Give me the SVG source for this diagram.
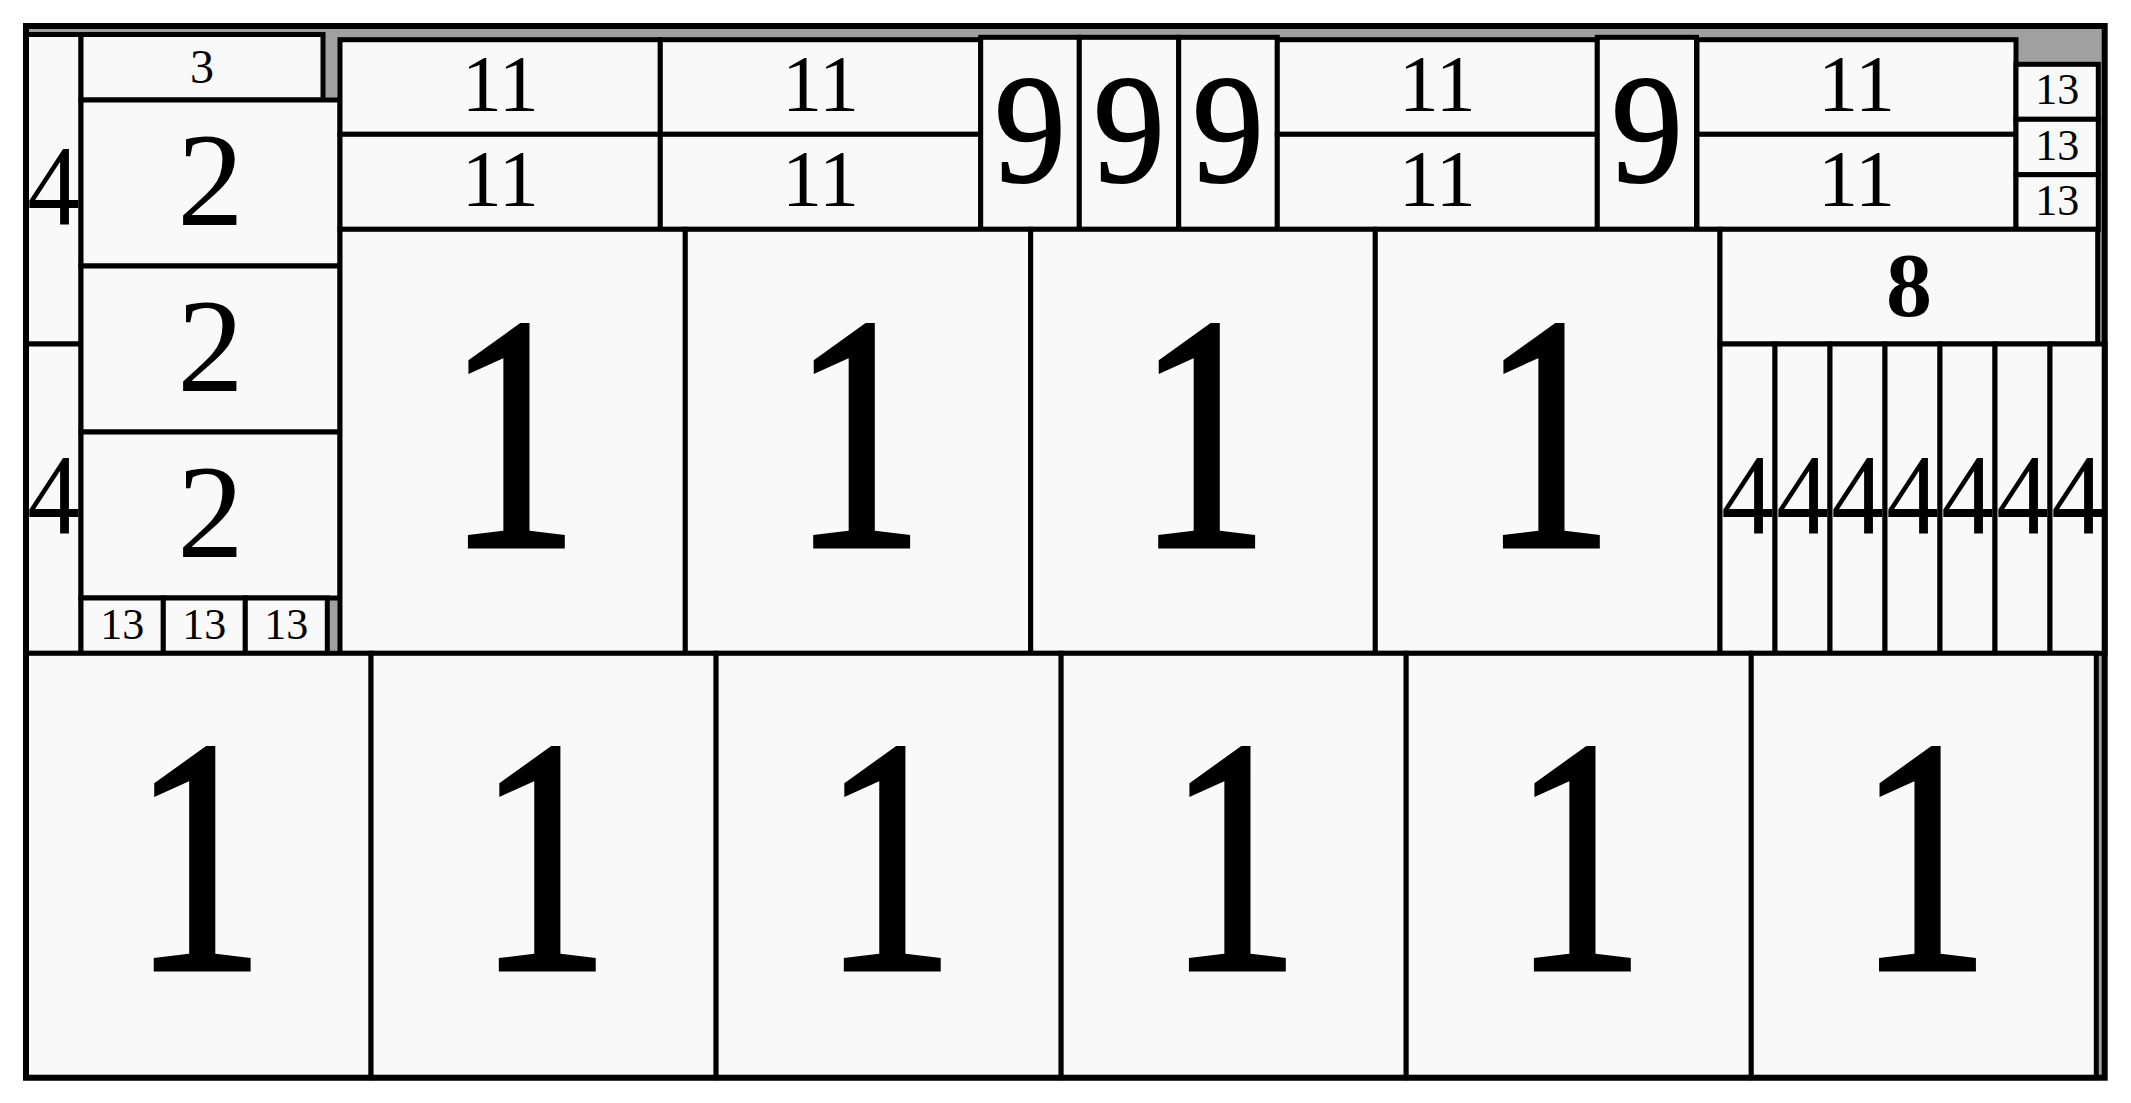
<svg xmlns="http://www.w3.org/2000/svg" width="2131" height="1103" viewBox="0 0 2131 1103">
<style>
.c{fill:#f9f9f9;stroke:#000;stroke-width:5}
text{fill:#000;text-anchor:middle}
.big{stroke:#000;stroke-width:5;stroke-linejoin:miter}
.mid{stroke:#000;stroke-width:2}
</style>
<rect width="2131" height="1103" fill="#fff"/>
<rect id="frame-bg" x="26" y="26" width="2078.7" height="1051.7" fill="#a0a0a0"/>
<g font-family="Liberation Serif, Times New Roman, serif">
<g id="n4a"><rect class="c" x="26" y="34.5" width="55" height="309.5"/><text x="53.5" y="225" font-size="114" textLength="52.7" lengthAdjust="spacingAndGlyphs">4</text></g>
<g id="n4b"><rect class="c" x="26" y="344" width="55" height="309.3"/><text x="53.5" y="533.5" font-size="114" textLength="52.7" lengthAdjust="spacingAndGlyphs">4</text></g>
<g id="n3"><rect class="c" x="81" y="34.5" width="242" height="65.5"/><text x="202" y="82.5" font-size="48">3</text></g>
<g id="n2a"><rect class="c" x="81" y="100" width="259" height="166"/><text x="210.5" y="225" font-size="133">2</text></g>
<g id="n2b"><rect class="c" x="81" y="266" width="259" height="166"/><text x="210.5" y="391" font-size="133">2</text></g>
<g id="n2c"><rect class="c" x="81" y="432" width="259" height="166"/><text x="210.5" y="557" font-size="133">2</text></g>
<g id="n13a"><rect class="c" x="81" y="598" width="82.3" height="55.3"/><text x="122.2" y="639.3" font-size="44">13</text></g>
<g id="n13b"><rect class="c" x="163.3" y="598" width="82" height="55.3"/><text x="204.3" y="639.3" font-size="44">13</text></g>
<g id="n13c"><rect class="c" x="245.3" y="598" width="82" height="55.3"/><text x="286.3" y="639.3" font-size="44">13</text></g>
<g id="n11a1"><rect class="c" x="340" y="39.7" width="320.3" height="94.6"/><text x="500.2" y="110.7" font-size="80">11</text></g>
<g id="n11a2"><rect class="c" x="340" y="134.3" width="320.3" height="95"/><text x="500.2" y="206" font-size="80">11</text></g>
<g id="n11b1"><rect class="c" x="660.3" y="39.7" width="320.4" height="94.6"/><text x="820.5" y="110.7" font-size="80">11</text></g>
<g id="n11b2"><rect class="c" x="660.3" y="134.3" width="320.4" height="95"/><text x="820.5" y="206" font-size="80">11</text></g>
<g id="n9a"><rect class="c" x="980.7" y="37.3" width="98.6" height="192"/><text class="mid" x="1030" y="181.3" font-size="155" textLength="71" lengthAdjust="spacingAndGlyphs">9</text></g>
<g id="n9b"><rect class="c" x="1079.3" y="37.3" width="99.4" height="192"/><text class="mid" x="1129" y="181.3" font-size="155" textLength="71" lengthAdjust="spacingAndGlyphs">9</text></g>
<g id="n9c"><rect class="c" x="1178.7" y="37.3" width="98.6" height="192"/><text class="mid" x="1228" y="181.3" font-size="155" textLength="71" lengthAdjust="spacingAndGlyphs">9</text></g>
<g id="n11c1"><rect class="c" x="1277.3" y="39.7" width="320" height="94.6"/><text x="1437.3" y="110.7" font-size="80">11</text></g>
<g id="n11c2"><rect class="c" x="1277.3" y="134.3" width="320" height="95"/><text x="1437.3" y="206" font-size="80">11</text></g>
<g id="n9d"><rect class="c" x="1597.3" y="37.3" width="99.2" height="192"/><text class="mid" x="1646.9" y="181.3" font-size="155" textLength="71" lengthAdjust="spacingAndGlyphs">9</text></g>
<g id="n11d1"><rect class="c" x="1697" y="39.7" width="319" height="94.6"/><text x="1856.5" y="110.7" font-size="80">11</text></g>
<g id="n11d2"><rect class="c" x="1697" y="134.3" width="319" height="95"/><text x="1856.5" y="206" font-size="80">11</text></g>
<g id="n13d"><rect class="c" x="2016" y="64.3" width="82.3" height="55"/><text x="2057.2" y="104" font-size="44">13</text></g>
<g id="n13e"><rect class="c" x="2016" y="119.3" width="82.3" height="55.4"/><text x="2057.2" y="160" font-size="44">13</text></g>
<g id="n13f"><rect class="c" x="2016" y="174.7" width="82.3" height="54.6"/><text x="2057.2" y="215.3" font-size="44">13</text></g>
<g id="n1a"><rect class="c" x="340" y="229.3" width="345.3" height="424"/><text class="big" x="512.7" y="546" font-size="334" textLength="132" lengthAdjust="spacingAndGlyphs">1</text></g>
<g id="n1b"><rect class="c" x="685.3" y="229.3" width="345.4" height="424"/><text class="big" x="858" y="546" font-size="334" textLength="132" lengthAdjust="spacingAndGlyphs">1</text></g>
<g id="n1c"><rect class="c" x="1030.7" y="229.3" width="344.6" height="424"/><text class="big" x="1203" y="546" font-size="334" textLength="132" lengthAdjust="spacingAndGlyphs">1</text></g>
<g id="n1d"><rect class="c" x="1375.3" y="229.3" width="344.7" height="424"/><text class="big" x="1547.7" y="546" font-size="334" textLength="132" lengthAdjust="spacingAndGlyphs">1</text></g>
<g id="n8"><rect class="c" x="1720" y="229.3" width="377.7" height="114.7"/><text x="1908.9" y="316" font-size="92" font-weight="bold">8</text></g>
<g id="n4c"><rect class="c" x="1720" y="344" width="55" height="309.3"/><text x="1747.5" y="533.5" font-size="114" textLength="52.7" lengthAdjust="spacingAndGlyphs">4</text></g>
<g id="n4d"><rect class="c" x="1775" y="344" width="55" height="309.3"/><text x="1802.5" y="533.5" font-size="114" textLength="52.7" lengthAdjust="spacingAndGlyphs">4</text></g>
<g id="n4e"><rect class="c" x="1830" y="344" width="55" height="309.3"/><text x="1857.5" y="533.5" font-size="114" textLength="52.7" lengthAdjust="spacingAndGlyphs">4</text></g>
<g id="n4f"><rect class="c" x="1885" y="344" width="55" height="309.3"/><text x="1912.5" y="533.5" font-size="114" textLength="52.7" lengthAdjust="spacingAndGlyphs">4</text></g>
<g id="n4g"><rect class="c" x="1940" y="344" width="55" height="309.3"/><text x="1967.5" y="533.5" font-size="114" textLength="52.7" lengthAdjust="spacingAndGlyphs">4</text></g>
<g id="n4h"><rect class="c" x="1995" y="344" width="55" height="309.3"/><text x="2022.5" y="533.5" font-size="114" textLength="52.7" lengthAdjust="spacingAndGlyphs">4</text></g>
<g id="n4i"><rect class="c" x="2050" y="344" width="55" height="309.3"/><text x="2077.5" y="533.5" font-size="114" textLength="52.7" lengthAdjust="spacingAndGlyphs">4</text></g>
<g id="n1e"><rect class="c" x="26" y="653.3" width="345.05" height="424.4"/><text class="big" x="198.5" y="969" font-size="334" textLength="132" lengthAdjust="spacingAndGlyphs">1</text></g>
<g id="n1f"><rect class="c" x="371.05" y="653.3" width="345.05" height="424.4"/><text class="big" x="543.6" y="969" font-size="334" textLength="132" lengthAdjust="spacingAndGlyphs">1</text></g>
<g id="n1g"><rect class="c" x="716.1" y="653.3" width="345.05" height="424.4"/><text class="big" x="888.6" y="969" font-size="334" textLength="132" lengthAdjust="spacingAndGlyphs">1</text></g>
<g id="n1h"><rect class="c" x="1061.15" y="653.3" width="345.05" height="424.4"/><text class="big" x="1233.7" y="969" font-size="334" textLength="132" lengthAdjust="spacingAndGlyphs">1</text></g>
<g id="n1i"><rect class="c" x="1406.2" y="653.3" width="345.05" height="424.4"/><text class="big" x="1578.7" y="969" font-size="334" textLength="132" lengthAdjust="spacingAndGlyphs">1</text></g>
<g id="n1j"><rect class="c" x="1751.25" y="653.3" width="345.05" height="424.4"/><text class="big" x="1923.8" y="969" font-size="334" textLength="132" lengthAdjust="spacingAndGlyphs">1</text></g>
</g>
<rect id="frame" x="26" y="26" width="2078.7" height="1051.7" fill="none" stroke="#000" stroke-width="6"/>
</svg>
